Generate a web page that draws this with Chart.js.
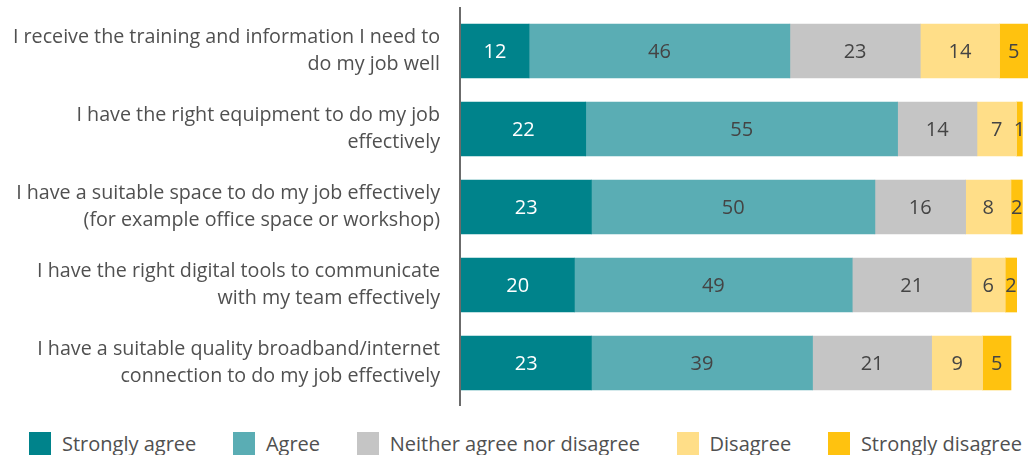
<!DOCTYPE html>
<html>
<head>
<meta charset="utf-8">
<script src="https://cdn.jsdelivr.net/npm/chart.js@4/dist/chart.umd.min.js"></script>
<style>
  html, body { margin: 0; padding: 0; background: #fff; }
  #wrap { position: relative; width: 1032px; height: 455px; font-family: "Open Sans", sans-serif; }
  #chartBox { position: absolute; left: 0; top: 0; width: 1032px; height: 410px; }
  #legend {
    position: absolute; left: 29px; right: 10px; top: 430px;
    display: flex; justify-content: space-between; align-items: center;
    font-size: 20px; color: #505050; white-space: nowrap;
  }
  #legend .item { display: flex; align-items: center; }
  #legend .box { width: 22px; height: 23px; margin-right: 11px; }
</style>
</head>
<body>
<div id="wrap">
  <div id="chartBox"><canvas id="surveyChart"></canvas></div>
  <div id="legend"></div>
</div>
<script>
// Etiquetas de cada pregunta (dos líneas cada una)
const categories = [
    ['I receive the training and information I need to', 'do my job well'],
    ['I have the right equipment to do my job', 'effectively'],
    ['I have a suitable space to do my job effectively', '(for example office space or workshop)'],
    ['I have the right digital tools to communicate', 'with my team effectively'],
    ['I have a suitable quality broadband/internet', 'connection to do my job effectively']
];

const seriesNames = ['Strongly agree', 'Agree', 'Neither agree nor disagree', 'Disagree', 'Strongly disagree'];

// Porcentajes por respuesta
const stronglyAgree    = [12, 22, 23, 20, 23];
const agree            = [46, 55, 50, 49, 39];
const neither          = [23, 14, 16, 21, 21];
const disagree         = [14, 7, 8, 6, 9];
const stronglyDisagree = [5, 1, 2, 2, 5];

const seriesColors = ['#00838b', '#5aadb4', '#c5c5c5', '#ffde88', '#ffc20f'];
const labelColors  = ['#ffffff', '#444444', '#444444', '#444444', '#444444'];

const FONT = '"Open Sans", sans-serif';
const TEXT = '#505050';

// Números centrados dentro de cada segmento
const segmentLabels = {
    id: 'segmentLabels',
    afterDatasetsDraw(chart) {
        const ctx = chart.ctx;
        ctx.save();
        ctx.font = '20px ' + FONT;
        ctx.textAlign = 'center';
        ctx.textBaseline = 'middle';
        chart.data.datasets.forEach((ds, i) => {
            chart.getDatasetMeta(i).data.forEach((bar, j) => {
                ctx.fillStyle = labelColors[i];
                ctx.fillText(ds.data[j], (bar.x + bar.base) / 2, bar.y + 1);
            });
        });
        ctx.restore();
    }
};

// Línea vertical del eje de categorías
const axisLine = {
    id: 'axisLine',
    afterDraw(chart) {
        const { ctx, chartArea } = chart;
        ctx.save();
        ctx.strokeStyle = '#6b6b6b';
        ctx.lineWidth = 2;
        ctx.beginPath();
        ctx.moveTo(chartArea.left - 1, chartArea.top - 5);
        ctx.lineTo(chartArea.left - 1, chartArea.bottom + 4);
        ctx.stroke();
        ctx.restore();
    }
};

const allSeries = [stronglyAgree, agree, neither, disagree, stronglyDisagree];

new Chart(document.getElementById('surveyChart').getContext('2d'), {
    type: 'bar',
    data: {
        labels: categories,
        datasets: allSeries.map((values, i) => ({
            label: seriesNames[i],
            data: values,
            backgroundColor: seriesColors[i],
            borderWidth: 0,
            barThickness: 54
        }))
    },
    options: {
        indexAxis: 'y',
        responsive: true,
        maintainAspectRatio: false,
        animation: false,
        layout: { padding: { top: 12, bottom: 8, right: 4, left: 0 } },
        plugins: {
            legend: { display: false },
            tooltip: { enabled: false }
        },
        scales: {
            x: { stacked: true, min: 0, max: 100, display: false },
            y: {
                stacked: true,
                grid: { display: false, drawTicks: false },
                border: { display: false },
                ticks: {
                    color: TEXT,
                    padding: 21,
                    font: { family: FONT, size: 19.7, lineHeight: 1.4 }
                },
                afterFit(scale) {
                    scale.width = 461;
                    scale.paddingTop = 0;
                    scale.paddingBottom = 0;
                }
            }
        }
    },
    plugins: [segmentLabels, axisLine]
});

// Leyenda inferior
const legendEl = document.getElementById('legend');
seriesNames.forEach((name, i) => {
    const item = document.createElement('div');
    item.className = 'item';
    item.innerHTML = '<span class="box" style="background:' + seriesColors[i] + '"></span><span>' + name + '</span>';
    legendEl.appendChild(item);
});
</script>
</body>
</html>
